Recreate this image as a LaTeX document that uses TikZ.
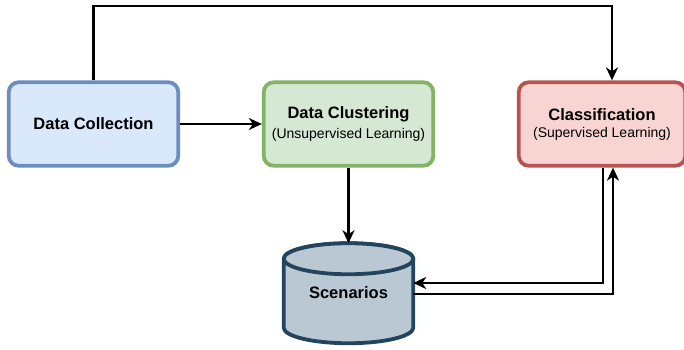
\documentclass[tikz,border=0pt]{standalone}
\usepackage{fontspec}
\setmainfont{Liberation Sans}
\usetikzlibrary{arrows.meta, positioning, shapes.geometric, calc}
\definecolor{scnblue}{HTML}{6C8EBF}
\definecolor{scnbluefill}{HTML}{DAE8FC}
\definecolor{scngreen}{HTML}{82B366}
\definecolor{scngreenfill}{HTML}{D5E8D4}
\definecolor{scnred}{HTML}{B85450}
\definecolor{scnredfill}{HTML}{F8D5D3}
\definecolor{scnnavy}{HTML}{23445D}
\definecolor{scnnavyfill}{HTML}{BAC8D3}
\newcommand{\titlefont}{\fontsize{16.5}{18}\bfseries\selectfont}
\newcommand{\subfont}{\fontsize{14}{18}\selectfont}

\begin{document}
\begin{tikzpicture}[x=1pt, y=1pt,
  stage/.style={rounded corners=10pt, line width=3.8pt, minimum width=169.5pt,
    minimum height=83.5pt, align=center},
  store/.style={draw=scnnavy, fill=scnnavyfill, line width=3.8pt, line join=round},
  flow/.style={-{Stealth[length=13pt, width=12pt, inset=4pt]}, line width=2.7pt}]
  \useasboundingbox (0,0) rectangle (684,349);
  % stages
  \node[stage, draw=scnblue, fill=scnbluefill] (dc) at (93.5,225) {\titlefont Data Collection};
  \node[stage, draw=scngreen, fill=scngreenfill] (clu) at (348.5,225)
    {\titlefont Data Clustering\\[5pt]\subfont (Unsupervised Learning)};
  \node[stage, draw=scnred, fill=scnredfill, minimum width=166.5pt] (cls) at (602,225)
    {\titlefont Classification\\[5pt]\subfont (Supervised Learning)};
  % store (cylinder)
  \draw[store] (283.75,90.25) -- (283.75,21.25) arc (180:360:64.75 and 15.5)
    -- (413.25,90.25) arc (0:180:64.75 and 15.5) -- cycle;
  \draw[store] (348.5,90.25) ellipse (64.75 and 15.5);
  \node[font=\titlefont] (scen) at (348.5,56) {Scenarios};
  \coordinate (scentop) at (348.5,105.75);
  \coordinate (scenin) at (413.25,66);
  \coordinate (scenout) at (413.25,55);
  \coordinate (ceil) at (0,343);
  % arrows
  \draw[flow] (dc.east) -- (clu.west);
  \draw[flow] (clu.south) -- (scentop);
  \draw[flow] (dc.north) -- (dc.north |- ceil) -| ([xshift=10pt]cls.north);
  \draw[flow] ([xshift=1pt]cls.south) |- (scenin);
  \draw[flow] (scenout) -| ([xshift=11pt]cls.south);
\end{tikzpicture}
\end{document}
